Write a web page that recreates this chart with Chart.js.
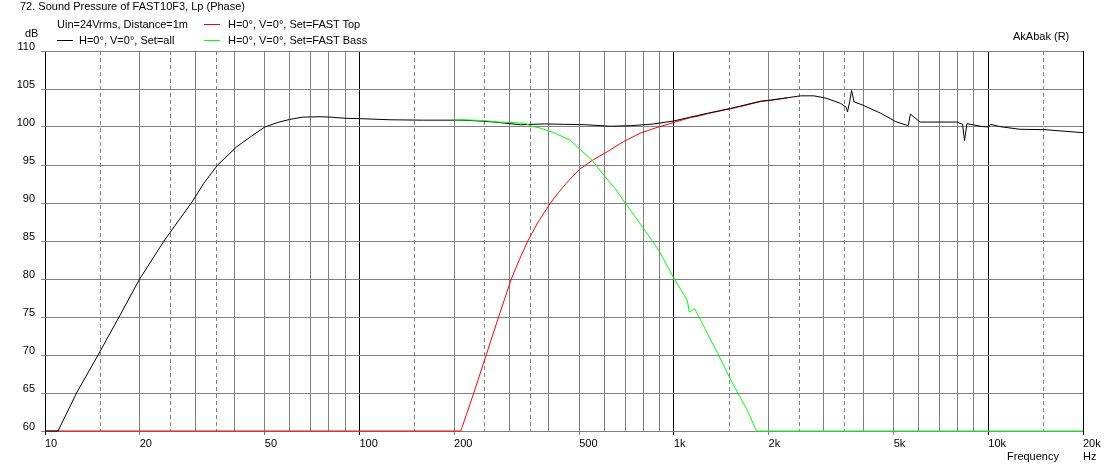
<!DOCTYPE html>
<html>
<head>
<meta charset="utf-8">
<script src="https://cdn.jsdelivr.net/npm/chart.js@4.4.0/dist/chart.umd.min.js"></script>
<style>
  html, body { margin: 0; padding: 0; background: #fff; }
  #wrap { position: relative; width: 1112px; height: 469px; font: 11px "Liberation Sans", Arial, sans-serif; color: #000; }
  #wrap canvas { position: absolute; left: 0; top: 0; }
  .lbl { position: absolute; white-space: nowrap; line-height: 13px; }
  .key { position: absolute; height: 0; width: 16px; border-top: 1px solid #000; }
</style>
</head>
<body>
<div id="wrap">
  <canvas id="chart" width="1112" height="469"></canvas>
  <div class="lbl" style="left:20px;top:0px">72. Sound Pressure of FAST10F3, Lp (Phase)</div>
  <div class="lbl" style="left:57px;top:18px">Uin=24Vrms, Distance=1m</div>
  <div class="key" style="left:57px;top:40px;border-color:#000"></div>
  <div class="lbl" style="left:79px;top:33.5px">H=0°, V=0°, Set=all</div>
  <div class="key" style="left:204px;top:24px;border-color:#f00"></div>
  <div class="lbl" style="left:228px;top:18px">H=0°, V=0°, Set=FAST Top</div>
  <div class="key" style="left:204px;top:40px;border-color:#0f0"></div>
  <div class="lbl" style="left:228px;top:33.5px">H=0°, V=0°, Set=FAST Bass</div>
  <div class="lbl" style="left:25px;top:27px">dB</div>
  <div class="lbl" style="left:1013px;top:30px">AkAbak (R)</div>
  <div class="lbl" style="left:1007px;top:450px">Frequency</div>
  <div class="lbl" style="left:1083px;top:450px">Hz</div>
</div>
<script>
// frequency grid and labels
const gridFreqs = [10, 15, 20, 25, 30, 35, 40, 50, 60, 70, 80, 90,
  100, 150, 200, 250, 300, 350, 400, 500, 600, 700, 800, 900,
  1000, 1500, 2000, 2500, 3000, 3500, 4000, 5000, 6000, 7000, 8000, 9000,
  10000, 15000, 20000];
const dashedFreqs = [15, 25, 35, 150, 250, 350, 1500, 2500, 3500, 15000];
const blackFreqs = [10, 100, 1000, 10000, 20000];
const tickValues = [10, 20, 50, 100, 200, 500, 1000, 2000, 5000, 10000, 20000];
const tickLabels = ['10', '20', '50', '100', '200', '500', '1k', '2k', '5k', '10k', '20k'];

// Set=all (black)
const freqAll = [10, 11, 12.6, 14.75, 17.2, 20, 23.9, 26.5, 29.2, 32, 35.4, 40.7, 45, 50, 55, 60, 66,
  75, 81, 90, 100, 125, 160, 212, 248, 277, 325, 387, 450, 523, 628, 728, 864, 1000,
  1130, 1277, 1514, 1630, 1888, 2033, 2300, 2529, 2787, 3042, 3394, 3530, 3566, 3620,
  3673, 3742, 3980, 4550, 5080, 5565, 5650, 6070, 7940, 8280, 8400, 8550, 9490, 10000,
  10170, 10880, 12600, 15140, 20000];
const splAll = [60, 60, 65, 70, 75, 80, 85, 87.6, 90, 92.6, 95, 97.4, 98.7, 100, 100.6, 101, 101.3,
  101.35, 101.3, 101.15, 101.1, 100.95, 100.9, 100.9, 100.77, 100.6, 100.3, 100.4, 100.35, 100.3, 100.1, 100.17, 100.4, 100.8,
  101.3, 101.8, 102.45, 102.76, 103.4, 103.55, 103.85, 104.1, 104.1, 103.8, 103.1, 102.6, 102.0, 103.3,
  104.8, 103.3, 102.9, 101.8, 100.7, 100.17, 101.7, 100.65, 100.65, 100.35, 98.2, 100.45, 100.08, 100.0,
  100.35, 100.05, 99.7, 99.65, 99.25];

// Set=FAST Top (red) - runs under the black curve once they merge
const freqTop = [10, 210, 231, 253, 277, 304, 323, 343, 370, 405, 430, 455, 500, 550, 614, 693, 783, 885, 1000,
  1130, 1217, 1277, 1514, 1630, 1888, 2033, 2300];
const splTop = [60, 60, 65, 70, 75, 80, 82.6, 85, 87.5, 90, 91.4, 92.6, 94.4, 95.6, 96.75, 98.1, 99.2, 99.95, 100.6,
  101.25, 101.5, 101.75, 102.4, 102.7, 103.35, 103.5, 103.85];

// Set=FAST Bass (green)
const freqBass = [200, 212, 248, 277, 300, 335, 352, 380, 415, 466, 505, 550, 600, 650, 700,
  800, 900, 1000, 1103, 1118, 1127, 1164, 1202, 1277, 1389, 1517, 1612, 1714, 1830, 20000];
const splBass = [100.9, 100.95, 100.85, 100.65, 100.6, 100.5, 100.13, 99.8, 99.25, 98.3, 97.0, 95.6, 93.6, 91.9, 90.0,
  86.7, 83.6, 80.1, 77.2, 75.7, 75.7, 76.1, 75.0, 72.85, 69.95, 66.7, 64.7, 62.7, 60, 60];

const pts = (fs, vs) => fs.map((f, i) => ({ x: f, y: vs[i] }));
const font = { family: '"Liberation Sans", Arial, sans-serif', size: 11 };

function line(label, fs, vs, color) {
  return {
    label: label,
    data: pts(fs, vs),
    borderColor: color,
    borderWidth: 1,
    pointRadius: 0,
    tension: 0,
    fill: false,
    clip: 3
  };
}

const tickOf = (c) => (c && c.tick ? c.tick.value : null);

new Chart(document.getElementById('chart'), {
  type: 'line',
  data: {
    datasets: [
      line('H=0°, V=0°, Set=FAST Bass', freqBass, splBass, '#00ff00'),
      line('H=0°, V=0°, Set=all', freqAll, splAll, '#000000'),
      line('H=0°, V=0°, Set=FAST Top', freqTop, splTop, '#ff0000')
    ]
  },
  options: {
    responsive: false,
    animation: false,
    events: [],
    layout: { padding: { left: 0, top: 51, right: 29, bottom: 0 } },
    plugins: { legend: { display: false }, tooltip: { enabled: false }, title: { display: false } },
    scales: {
      x: {
        type: 'logarithmic',
        min: 10,
        max: 20000,
        afterBuildTicks: (s) => { s.ticks = gridFreqs.map(v => ({ value: v })); },
        afterFit: (s) => { s.height = 38; },
        border: {
          display: false,
          dash: (c) => dashedFreqs.includes(tickOf(c)) ? [4, 3] : []
        },
        grid: {
          color: (c) => blackFreqs.includes(tickOf(c)) ? '#000000' : '#808080',
          tickColor: (c) => {
            const v = tickOf(c);
            if (!tickValues.includes(v)) return 'rgba(0,0,0,0)';
            return blackFreqs.includes(v) ? '#000000' : '#808080';
          },
          tickLength: 4,
          lineWidth: 1
        },
        ticks: {
          autoSkip: false,
          maxRotation: 0,
          minRotation: 0,
          align: 'start',
          padding: 2,
          color: '#000',
          font: font,
          callback: (v) => {
            const i = tickValues.indexOf(v);
            return i >= 0 ? tickLabels[i] : '';
          }
        }
      },
      y: {
        type: 'linear',
        min: 60,
        max: 110,
        afterFit: (s) => { s.width = 45; },
        border: { display: false },
        grid: { color: '#808080', tickColor: '#808080', tickLength: 4, lineWidth: 1 },
        ticks: {
          stepSize: 5,
          padding: 6,
          labelOffset: -4,
          color: '#000',
          font: font
        }
      }
    }
  }
});
</script>
</body>
</html>
